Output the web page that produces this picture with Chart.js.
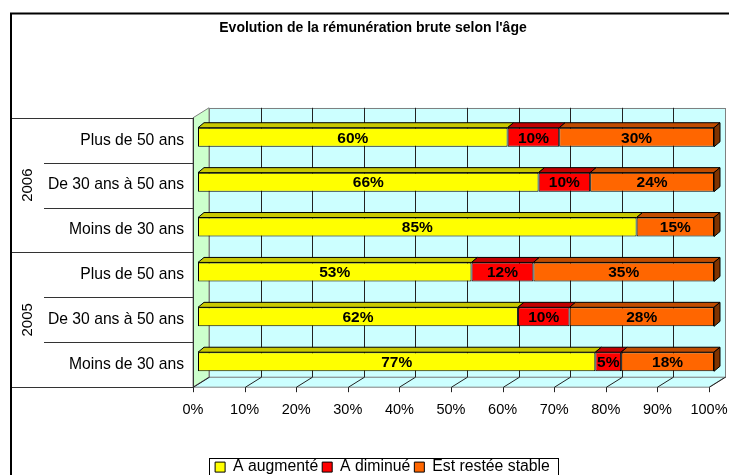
<!DOCTYPE html>
<html>
<head>
<meta charset="utf-8">
<script src="https://cdn.jsdelivr.net/npm/chart.js@4.4.1/dist/chart.umd.min.js"></script>
<style>
  html, body { margin: 0; padding: 0; background: #fff; }
  #wrap { width: 729px; height: 475px; }
</style>
</head>
<body>
<div id="wrap"><canvas id="chart" width="729" height="475"></canvas></div>
<script>
// data
const categories = ['Plus de 50 ans', 'De 30 ans à 50 ans', 'Moins de 30 ans',
                    'Plus de 50 ans', 'De 30 ans à 50 ans', 'Moins de 30 ans'];
const groupLabels = ['2006', '2005'];
const groupSizes = [3, 3];
const augmente = [60, 66, 85, 53, 62, 77];
const diminue = [10, 10, 0, 12, 10, 5];
const stable = [30, 24, 15, 35, 28, 18];
const xTicks = [0, 10, 20, 30, 40, 50, 60, 70, 80, 90, 100];

// styles
const faceColors = ['#ffff00', '#ff0000', '#ff6600'];
const topColors = ['#c8c800', '#c00000', '#c04c00'];
const sideColors = ['#999900', '#900000', '#803300'];
const WALL = { dx: 16, dy: -10 };   // depth of the 3d box
const BAR = { dx: 5, dy: -3 };      // bars sit a bit inside the box
const FACE = { dx: 6, dy: -5 };     // depth of the bars

Chart.defaults.font.family = '"Liberation Sans", Arial, sans-serif';
Chart.defaults.color = '#000';

function poly(ctx, pts, fill, stroke) {
  ctx.beginPath();
  ctx.moveTo(pts[0][0], pts[0][1]);
  for (let i = 1; i < pts.length; i++) ctx.lineTo(pts[i][0], pts[i][1]);
  ctx.closePath();
  if (fill) { ctx.fillStyle = fill; ctx.fill(); }
  if (stroke) { ctx.strokeStyle = stroke; ctx.stroke(); }
}

const box3d = {
  id: 'box3d',
  afterLayout(chart) {
    // the legend sits a little right of the centre in the original
    chart.legend.left += 9.5;
    chart.legend.right += 9.5;
  },
  beforeDatasetsDraw(chart) {
    const { ctx, chartArea: a, scales: { x } } = chart;
    ctx.save();
    ctx.lineWidth = 1;
    // back wall
    ctx.fillStyle = '#ccffff';
    ctx.fillRect(a.left + WALL.dx, a.top + WALL.dy, a.width, a.height);
    ctx.strokeStyle = '#808080';
    ctx.strokeRect(Math.round(a.left + WALL.dx) + .5, Math.round(a.top + WALL.dy) + .5, Math.round(a.width), Math.round(a.height));
    // left wall
    poly(ctx, [[a.left, a.top], [a.left + WALL.dx, a.top + WALL.dy], [a.left + WALL.dx, a.bottom + WALL.dy], [a.left, a.bottom]], '#ccffcc', '#808080');
    // floor
    poly(ctx, [[a.left, a.bottom], [a.left + WALL.dx, a.bottom + WALL.dy], [a.right + WALL.dx, a.bottom + WALL.dy], [a.right, a.bottom]], '#ccffff', '#808080');
    // grid lines on the back wall and the floor
    xTicks.forEach(v => {
      const px = Math.round(x.getPixelForValue(v)) + .5;
      ctx.strokeStyle = '#222';
      if (v > 0 && v < 100) {
        ctx.beginPath();
        ctx.moveTo(px + WALL.dx, a.top + WALL.dy);
        ctx.lineTo(px + WALL.dx, a.bottom + WALL.dy);
        ctx.stroke();
      }
      ctx.beginPath();
      ctx.moveTo(px + WALL.dx, a.bottom + WALL.dy);
      ctx.lineTo(px, a.bottom);
      ctx.lineTo(px, a.bottom + 5);
      ctx.stroke();
    });
    ctx.restore();
    ctx.save();
    ctx.translate(BAR.dx, BAR.dy);
  },
  afterDatasetsDraw(chart) {
    const ctx = chart.ctx;
    const last = chart.data.datasets.length - 1;
    ctx.lineWidth = 1;
    chart.data.datasets.forEach((ds, di) => {
      chart.getDatasetMeta(di).data.forEach((bar, i) => {
        if (!ds.data[i]) return;
        const p = bar.getProps(['x', 'base', 'y', 'height'], true);
        const l = Math.min(p.x, p.base), r = Math.max(p.x, p.base);
        const t = p.y - p.height / 2, b = p.y + p.height / 2;
        poly(ctx, [[l, t], [l + FACE.dx, t + FACE.dy], [r + FACE.dx, t + FACE.dy], [r, t]], topColors[di], '#000');
        // right side of the stack
        let isEnd = true;
        for (let k = di + 1; k <= last; k++) if (chart.data.datasets[k].data[i]) isEnd = false;
        if (isEnd) {
          poly(ctx, [[r, t], [r + FACE.dx, t + FACE.dy], [r + FACE.dx, b + FACE.dy], [r, b]], sideColors[di], '#000');
        }
        ctx.fillStyle = '#000';
        ctx.font = 'bold 15.5px "Liberation Sans", Arial, sans-serif';
        ctx.textAlign = 'center';
        ctx.textBaseline = 'middle';
        ctx.fillText(ds.data[i] + '%', (l + r) / 2, p.y + 1);
      });
    });
    ctx.restore();
  },
  afterDraw(chart) {
    const { ctx, chartArea: a, scales: { y } } = chart;
    ctx.save();
    // outer frame of the chart
    ctx.strokeStyle = '#000';
    ctx.lineWidth = 2;
    ctx.beginPath();
    ctx.moveTo(11, 475);
    ctx.lineTo(11, 13.5);
    ctx.lineTo(729, 13.5);
    ctx.stroke();
    // table lines of the category axis
    ctx.lineWidth = 1;
    ctx.strokeStyle = '#333';
    const rowH = y.getPixelForValue(1) - y.getPixelForValue(0);
    let row = 0;
    const hline = (yy, x0) => {
      ctx.beginPath();
      ctx.moveTo(x0, Math.round(yy) + .5);
      ctx.lineTo(a.left, Math.round(yy) + .5);
      ctx.stroke();
    };
    hline(a.top, 12);
    groupSizes.forEach((n, g) => {
      const y0 = y.getPixelForValue(row) - rowH / 2;
      for (let k = 1; k < n; k++) hline(y0 + k * rowH, 44);
      hline(y0 + n * rowH, 12);
      const cy = y0 + n * rowH / 2;
      ctx.save();
      ctx.translate(28, cy);
      ctx.rotate(-Math.PI / 2);
      ctx.fillStyle = '#000';
      ctx.font = '15px "Liberation Sans", Arial, sans-serif';
      ctx.textAlign = 'center';
      ctx.textBaseline = 'middle';
      ctx.fillText(groupLabels[g], 0, 0);
      ctx.restore();
      row += n;
    });
    ctx.beginPath();
    ctx.moveTo(Math.round(a.left) + .5, a.top);
    ctx.lineTo(Math.round(a.left) + .5, a.bottom);
    ctx.stroke();
    // frame around the legend
    const hb = chart.legend.legendHitBoxes;
    if (hb && hb.length) {
      const f = hb[0], e = hb[hb.length - 1];
      const x0 = Math.round(f.left - 6) + .5;
      const x1 = Math.round(e.left + e.width + 8) + .5;
      ctx.strokeStyle = '#000';
      ctx.strokeRect(x0, Math.round(f.top - 1) + .5, x1 - x0, 40);
    }
    ctx.restore();
  }
};

const chart = new Chart(document.getElementById('chart').getContext('2d'), {
  type: 'bar',
  data: {
    labels: categories,
    datasets: [
      { label: 'A augmenté', data: augmente },
      { label: 'A diminué', data: diminue },
      { label: 'Est restée stable', data: stable }
    ].map((d, i) => Object.assign(d, {
      backgroundColor: faceColors[i],
      borderColor: '#000',
      borderWidth: 1,
      borderSkipped: false,
      barPercentage: 0.424,
      categoryPercentage: 1,
      clip: false
    }))
  },
  options: {
    indexAxis: 'y',
    responsive: false,
    animation: false,
    events: [],
    layout: { padding: { left: 37, right: 20, top: 0, bottom: -10 } },
    scales: {
      x: {
        stacked: true,
        min: 0,
        max: 100,
        grid: { display: false, drawTicks: false },
        border: { display: false },
        ticks: { padding: 14, font: { size: 14.5 }, maxRotation: 0, autoSkip: false, callback: v => v + '%' },
        afterBuildTicks(s) { s.ticks = xTicks.map(v => ({ value: v })); },
        afterFit(s) { s.height = 68; s.paddingLeft = 0; s.paddingRight = 0; }
      },
      y: {
        stacked: true,
        grid: { display: false, drawTicks: false },
        border: { display: false },
        ticks: { padding: 9, font: { size: 15.7 }, autoSkip: false },
        afterFit(s) { s.width = 156; }
      }
    },
    plugins: {
      title: {
        display: true,
        text: "Evolution de la rémunération brute selon l'âge",
        font: { size: 14, weight: 'bold' },
        padding: { top: 20, bottom: 81 }
      },
      legend: {
        position: 'bottom',
        labels: { boxWidth: 10, boxHeight: 10, padding: 4, font: { size: 15.8 } }
      },
      tooltip: { enabled: false }
    }
  },
  plugins: [box3d]
});
</script>
</body>
</html>
